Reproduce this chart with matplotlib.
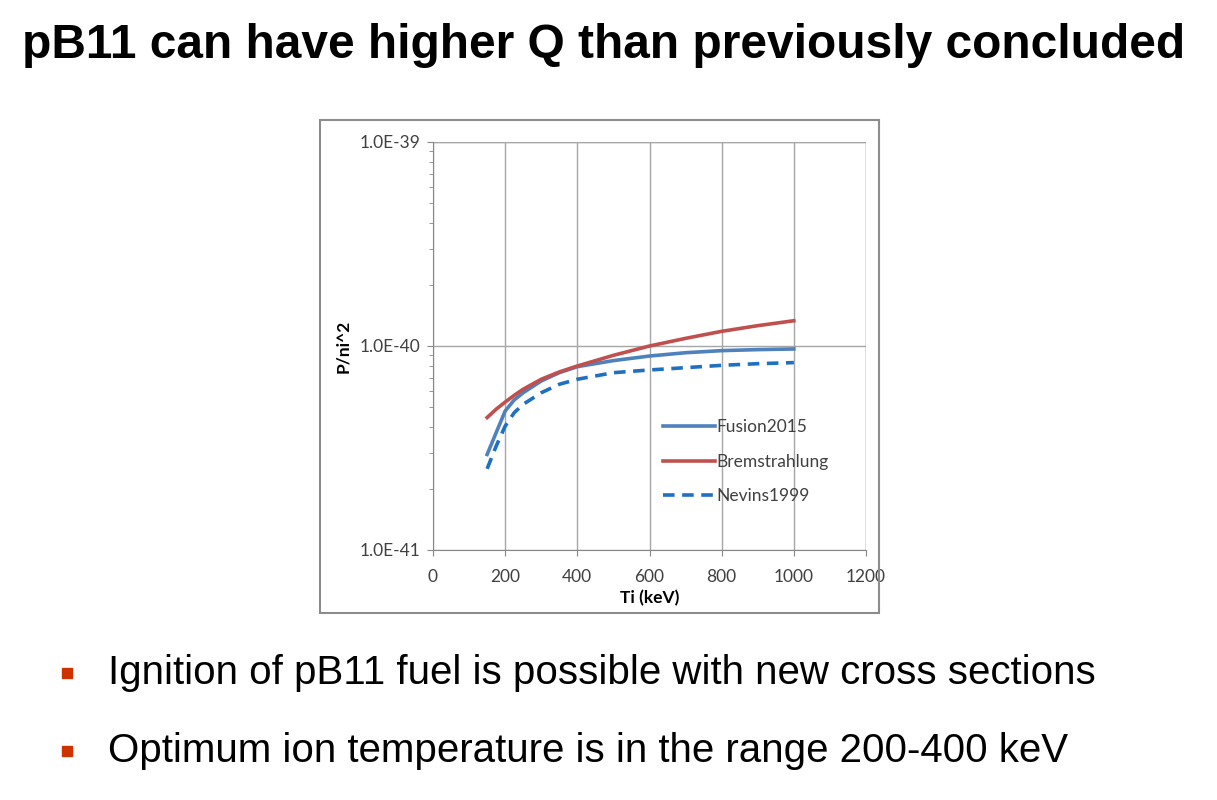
import numpy as np
import matplotlib.pyplot as plt
from matplotlib.patches import Rectangle
from matplotlib.ticker import LogLocator, FixedLocator, NullFormatter

# Ti in keV
ti = [150, 175, 200, 225, 250, 300, 350, 400, 500, 600, 700, 800, 900, 1000]
# P/ni^2 in units of 1e-40
fusion2015 = [0.294, 0.376, 0.48, 0.544, 0.59, 0.674, 0.74, 0.792, 0.848, 0.893,
              0.927, 0.949, 0.96, 0.967]
bremsstrahlung = [0.446, 0.49, 0.531, 0.573, 0.614, 0.687, 0.746, 0.798, 0.90, 1.0,
                  1.09, 1.18, 1.258, 1.33]
nevins1999 = [0.25, 0.323, 0.405, 0.471, 0.518, 0.59, 0.649, 0.687, 0.74, 0.763,
              0.783, 0.804, 0.819, 0.829]

x_ticks = [0, 200, 400, 600, 800, 1000, 1200]
y_ticks = [1e-41, 1e-40, 1e-39]
y_labels = ["1.0E-41", "1.0E-40", "1.0E-39"]

title = "pB11 can have higher Q than previously concluded"
bullets = ["Ignition of pB11 fuel is possible with new cross sections",
           "Optimum ion temperature is in the range 200-400 keV"]

W, H = 1217, 800
fig = plt.figure(figsize=(W / 100, H / 100), dpi=100)

def fx(px):
    return px / W

def fy(py):
    return 1 - py / H

# title and bullets
fig.text(fx(22), fy(45), title, fontsize=34.5, fontweight="bold",
         family="Liberation Sans", va="center", ha="left")
for i, b in enumerate(bullets):
    yy = 673 + i * 78
    fig.patches.append(Rectangle((fx(62), fy(yy + 5)), fx(10), 10 / H,
                                 transform=fig.transFigure, color="#cc3300"))
    fig.text(fx(108), fy(yy), b, fontsize=29, family="Liberation Sans",
             va="center", ha="left")

# chart frame
fig.patches.append(Rectangle((fx(320), fy(613)), fx(879 - 320), (613 - 120) / H,
                             transform=fig.transFigure, fill=False,
                             edgecolor="#8c8c8c", linewidth=1.5))

ax = fig.add_axes([fx(433), fy(550), fx(866 - 433), (550 - 142) / H])
scale = 1e-40
ax.plot(ti, np.array(fusion2015) * scale, color="#4f81bd", lw=2.6, label="Fusion2015")
ax.plot(ti, np.array(bremsstrahlung) * scale, color="#c0504d", lw=2.6, label="Bremstrahlung")
ax.plot(ti, np.array(nevins1999) * scale, color="#1f70c1", lw=2.6, ls=(0, (3.2, 2.1)),
        label="Nevins1999")

ax.set_yscale("log")
ax.set_xlim(0, 1200)
ax.set_ylim(1e-41, 1e-39)
ax.set_xticks(x_ticks)
ax.set_xticklabels([str(t) for t in x_ticks])
ax.yaxis.set_major_locator(FixedLocator(y_ticks))
ax.set_yticklabels(y_labels)
ax.yaxis.set_minor_locator(LogLocator(base=10, subs=np.arange(2, 10)))
ax.yaxis.set_minor_formatter(NullFormatter())

for t in ax.get_xticklabels() + ax.get_yticklabels():
    t.set_fontfamily("Lato")
    t.set_fontsize(12.5)
    t.set_color("#404040")

ax.tick_params(axis="both", which="major", length=4, color="#868686")
ax.tick_params(axis="x", which="major", pad=10)
ax.tick_params(axis="y", which="major", pad=5)
ax.tick_params(axis="y", which="minor", length=3, color="#868686")
ax.grid(True, which="major", color="#a6a6a6", lw=1)
for s in ["top", "right"]:
    ax.spines[s].set_visible(False)
for s in ["left", "bottom"]:
    ax.spines[s].set_color("#868686")
ax.set_axisbelow(True)
ax.axvline(1200, color="#a6a6a6", lw=1)
ax.axhline(1e-39, color="#a6a6a6", lw=1)

ax.set_xlabel("Ti (keV)", family="Lato", fontsize=12.5, fontweight="bold", labelpad=3)
ax.set_ylabel("P/ni^2", family="Lato", fontsize=12.5, fontweight="bold", labelpad=6)

ax.legend(loc="upper left", bbox_to_anchor=(0.531, 0.32), frameon=False,
          borderaxespad=0, borderpad=0,
          handlelength=3.0, handletextpad=0.1, labelspacing=1.05,
          prop={"family": "Lato", "size": 12.5})
for t in ax.get_legend().get_texts():
    t.set_color("#404040")

fig.savefig("out.png", dpi=100)
